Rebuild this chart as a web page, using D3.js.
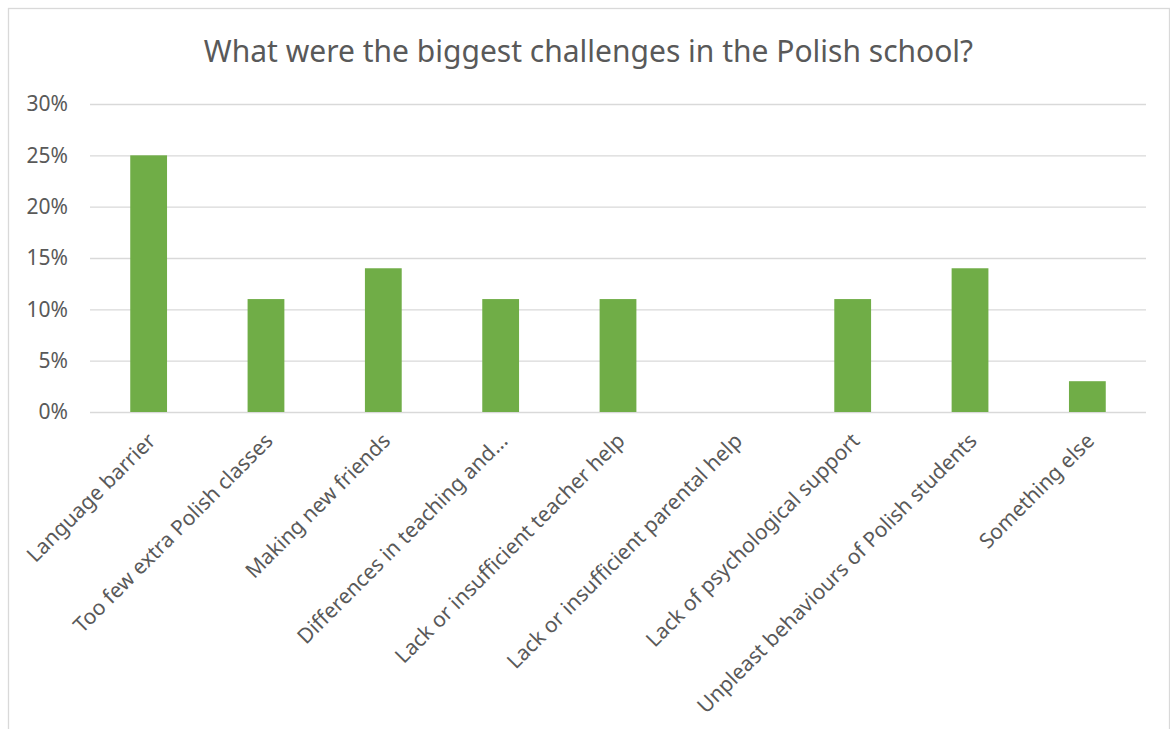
<!DOCTYPE html>
<html>
<head>
<meta charset="utf-8">
<script src="https://cdn.jsdelivr.net/npm/d3@7"></script>
<style>
  html, body { margin: 0; padding: 0; background: #fff; }
  svg { display: block; }
  text { font-family: "Noto Sans", "Open Sans", sans-serif; fill: #595959; }
</style>
</head>
<body>
<svg id="chart" width="1170" height="729"></svg>
<script>
// Survey answers: share of respondents naming each challenge
const categories = [
  "Language barrier",
  "Too few extra Polish classes",
  "Making new friends",
  "Differences in teaching and...",
  "Lack or insufficient teacher help",
  "Lack or insufficient parental help",
  "Lack of psychological support",
  "Unpleast behaviours of Polish students",
  "Something else"
];
const shares = [25, 11, 14, 11, 11, 0, 11, 14, 3];
const yTicks = [0, 5, 10, 15, 20, 25, 30];
const titleText = "What were the biggest challenges in the Polish school?";

const svg = d3.select("#chart");
const plot = { left: 90, right: 1146, top: 104, bottom: 412 };

// Chart frame
svg.append("rect")
  .attr("x", 8.5).attr("y", 8.5)
  .attr("width", 1161).attr("height", 740)
  .attr("fill", "#fff")
  .attr("stroke", "#d9d9d9")
  .attr("stroke-width", 1.3);

// Title
svg.append("text")
  .attr("x", 588.5).attr("y", 62)
  .attr("text-anchor", "middle")
  .style("font-size", "30px")
  .text(titleText);

const x = d3.scaleBand()
  .domain(categories)
  .range([plot.left, plot.right])
  .paddingInner(0.6865)
  .paddingOuter(0.343);

const y = d3.scaleLinear()
  .domain([0, 30])
  .range([plot.bottom, plot.top]);

// Gridlines and percentage labels
const yAxis = svg.append("g")
  .attr("transform", `translate(${plot.left},0)`)
  .call(d3.axisLeft(y)
    .tickValues(yTicks)
    .tickSize(-(plot.right - plot.left))
    .tickPadding(22)
    .tickFormat(d => d + "%"));
yAxis.select(".domain").remove();
yAxis.selectAll(".tick line").attr("stroke", "#d9d9d9").attr("stroke-width", 1.3);
yAxis.selectAll(".tick text")
  .style("font-size", "21px")
  .attr("fill", "#595959");

// Bars
svg.append("g")
  .selectAll("rect")
  .data(categories)
  .join("rect")
  .attr("x", d => x(d))
  .attr("width", x.bandwidth())
  .attr("y", (d, i) => y(shares[i]))
  .attr("height", (d, i) => y(0) - y(shares[i]))
  .attr("fill", "#70ad47");

// Category labels, rotated
const xAxis = svg.append("g")
  .attr("transform", `translate(0,${plot.bottom})`)
  .call(d3.axisBottom(x).tickSize(0).tickPadding(0));
xAxis.select(".domain").remove();
xAxis.selectAll(".tick text")
  .style("font-size", "21px")
  .attr("fill", "#595959")
  .attr("text-anchor", "end")
  .attr("dy", "0.35em")
  .attr("transform", "translate(3,25) rotate(-45)");
</script>
</body>
</html>
